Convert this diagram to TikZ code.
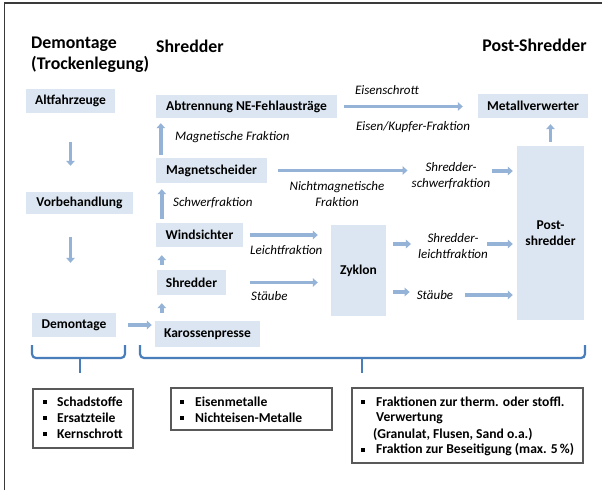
\documentclass[tikz,border=0pt]{standalone}
\usepackage{fontspec}
\setmainfont{Carlito}
\usetikzlibrary{arrows.meta}
\definecolor{boxfill}{HTML}{DCE6F2}
\definecolor{arrowc}{HTML}{95B3D7}
\definecolor{bracec}{HTML}{4A7EBB}
\definecolor{framec}{HTML}{3A3A3A}
\definecolor{listc}{HTML}{595959}
\begin{document}
\begin{tikzpicture}[x=1pt,y=-1pt,
 stage/.style={fill=boxfill, inner sep=0, font=\fontsize{13.5}{16}\selectfont\bfseries, align=center},
 lbl/.style={inner sep=0, font=\fontsize{13}{16}\selectfont\itshape, align=center},
 title/.style={inner sep=0, font=\fontsize{17.8}{21}\selectfont\bfseries, align=left},
 arr/.style={draw=arrowc, line width=3.8pt, -{Triangle[length=5pt,width=8.5pt]}},
 brace/.style={draw=bracec, line width=2.2pt, rounded corners=4pt},
 listbox/.style={draw=listc, line width=1.5pt, fill=white, inner sep=0},
 item/.style={inner sep=0, anchor=west, font=\fontsize{13.6}{16}\selectfont\bfseries},
 bul/.style={fill=black, inner sep=0, minimum size=3.2pt}
]
\useasboundingbox (0,0) rectangle (602,490);
\fill[white] (0,0) rectangle (602,490);
\draw[framec, line width=1.6pt] (4.5,490) -- (4.5,3) -- (602,3);

% titles
\node[title, anchor=west] (t1) at (31,55) {Demontage\\(Trockenlegung)};
\node[title, anchor=west] (t2) at (156,46) {Shredder};
\node[title] (t3) at (534.5,45) {Post-Shredder};

% stage boxes
\node[stage, minimum width=89, minimum height=24] (alt) at (70.5,101) {Altfahrzeuge};
\node[stage, minimum width=107, minimum height=22] (vor) at (79.5,203) {Vorbehandlung};
\node[stage, minimum width=84, minimum height=24] (dem) at (74,325) {Demontage};
\node[stage, minimum width=105, minimum height=26] (kar) at (207.5,334) {Karossenpresse};
\node[stage, minimum width=69, minimum height=25] (shr) at (191.5,282.5) {Shredder};
\node[stage, minimum width=87, minimum height=24] (wind) at (199.5,235) {Windsichter};
\node[stage, minimum width=111, minimum height=25] (mag) at (211.5,170.5) {Magnetscheider};
\node[stage, minimum width=181, minimum height=23] (abt) at (246.5,106.5) {Abtrennung NE-Fehlausträge};
\node[stage, minimum width=110, minimum height=24] (met) at (533,106) {Metallverwerter};
\node[stage, minimum width=67, minimum height=174] (post) at (550.5,233) {Post-\\shredder};
\node[stage, minimum width=55, minimum height=91] (zyk) at (358.5,270.5) {Zyklon};

% italic labels
\node[lbl] (eis) at (387,90) {Eisenschrott};
\node[lbl] (eku) at (413,127) {Eisen/Kupfer-Fraktion};
\node[lbl, anchor=west] (magf) at (175,137) {Magnetische Fraktion};
\node[lbl, anchor=west] (schw) at (173,203) {Schwerfraktion};
\node[lbl] (nmf) at (337,194) {Nichtmagnetische\\Fraktion};
\node[lbl] (shs) at (451,176) {Shredder-\\schwerfraktion};
\node[lbl, anchor=west] (leif) at (250,250) {Leichtfraktion};
\node[lbl, anchor=west] (st1) at (251,296) {Stäube};
\node[lbl] (shl) at (453,246) {Shredder-\\leichtfraktion};
\node[lbl] (st2) at (435,295) {Stäube};

% arrows
\draw[arr, shorten <=29pt, shorten >=26pt] (alt.south) -- (alt.south |- vor.north);
\draw[arr, shorten <=23pt, shorten >=50pt] (alt.south |- vor.south) -- (alt.south |- dem.north);
\draw[arr, shorten <=12pt, shorten >=3pt] (dem.east) -- (dem.east -| kar.west);
\draw[arr, shorten <=8pt, shorten >=8pt] ([xshift=5pt]shr.south west |- kar.north) -- ([xshift=5pt]shr.south west);
\draw[arr, shorten <=5pt, shorten >=8pt] ([xshift=5pt]shr.north west) -- ([xshift=5pt]shr.north west |- wind.south);
\draw[arr, shorten <=4pt, shorten >=6pt] ([xshift=6pt]wind.north west) -- ([xshift=6pt]wind.north west |- mag.south);
\draw[arr, shorten <=3pt, shorten >=5pt] ([xshift=5pt]mag.north west) -- ([xshift=5pt]mag.north west |- abt.south);
\draw[arr, shorten <=7pt, shorten >=13pt] (wind.east) -- (wind.east -| zyk.west);
\draw[arr, shorten <=24pt, shorten >=13pt] (shr.east) -- (shr.east -| zyk.west);
\draw[arr, shorten <=11pt, shorten >=4pt] (mag.east) -- (mag.east -| shs.west);
\draw[arr, shorten <=2pt, shorten >=4pt] ([yshift=5pt]shs.east) -- ([yshift=5pt]shs.east -| post.west);
\draw[arr, shorten <=7pt, shorten >=15pt] (abt.east) -- (abt.east -| met.west);
\draw[arr, shorten <=4pt, shorten >=6pt] (post.north) -- (post.north |- met.south);
\draw[arr, shorten <=7pt, shorten >=7pt] ([yshift=2pt]shl.west -| zyk.east) -- ([yshift=2pt]shl.west);
\draw[arr, shorten <=-1pt, shorten >=4pt] ([yshift=2pt]shl.east) -- ([yshift=2pt]shl.east -| post.west);
\draw[arr, shorten <=7pt, shorten >=7pt] ([yshift=3pt]st2.west -| zyk.east) -- ([yshift=3pt]st2.west);
\draw[arr, shorten <=12pt, shorten >=4pt] (st2.east) -- (st2.east -| post.west);

% braces
\draw[brace] (32,345) -- (32,358) -- (125,358) -- (125,345);
\draw[bracec, line width=2.2pt] (80,358) -- (80,373);
\draw[brace] (140,345) -- (140,358) -- (585,358) -- (585,345);
\draw[bracec, line width=2.2pt] (362,358) -- (362,373);

% list boxes
\node[listbox, minimum width=100, minimum height=59] (l1) at (83,418.5) {};
\node[bul] (b11) at (45,402) {};
\node[bul] (b12) at (45,418) {};
\node[bul] (b13) at (45,434) {};
\node[item] (i11) at (57,402) {Schadstoffe};
\node[item] (i12) at (57,418) {Ersatzteile};
\node[item] (i13) at (57,434) {Kernschrott};

\node[listbox, minimum width=161, minimum height=42] (l2) at (251.5,409) {};
\node[bul] (b21) at (182,402) {};
\node[bul] (b22) at (182,418) {};
\node[item] (i21) at (195,402) {Eisenmetalle};
\node[item] (i22) at (195,418) {Nichteisen-Metalle};

\node[listbox, minimum width=231, minimum height=75] (l3) at (467.5,425.5) {};
\node[bul] (b31) at (363,402) {};
\node[bul] (b32) at (363,450) {};
\node[item] (i31) at (376,402) {Fraktionen zur therm. oder stoffl.};
\node[item] (i32) at (376,418) {Verwertung};
\node[item] (i33) at (373,434) {(Granulat, Flusen, Sand o.a.)};
\node[item] (i34) at (376,450) {Fraktion zur Beseitigung (max. 5\,\%)};
\end{tikzpicture}
\end{document}
